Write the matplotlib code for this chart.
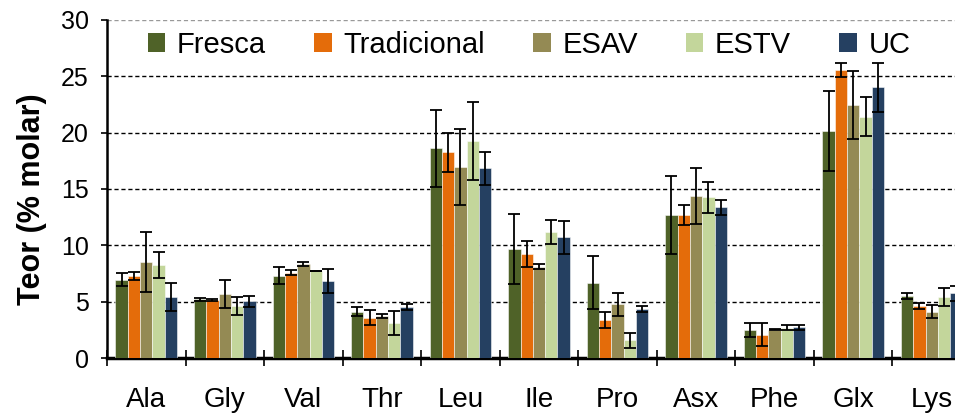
import matplotlib
matplotlib.use("Agg")
import matplotlib.pyplot as plt
import numpy as np
from matplotlib.patches import Patch

plt.rcParams['font.family'] = ['Liberation Sans', 'DejaVu Sans']

categories = ["Ala", "Gly", "Val", "Thr", "Leu", "Ile", "Pro", "Asx", "Phe", "Glx", "Lys"]
series = ["Fresca", "Tradicional", "ESAV", "ESTV", "UC"]

fresca      = [6.95, 5.21, 7.30, 4.11, 18.60, 9.64, 6.69, 12.69, 2.49, 20.13, 5.50]
tradicional = [7.30, 5.15, 7.57, 3.58, 18.24, 9.23, 3.38, 12.69, 2.08, 25.54, 4.62]
esav        = [8.49, 5.68, 8.34, 3.73, 16.94, 8.10, 4.77, 14.37, 2.52, 22.44, 4.12]
estv        = [8.25, 4.62, 7.72, 3.11, 19.27, 11.18, 1.58, 14.25, 2.70, 21.40, 5.38]
uc          = [5.42, 5.03, 6.83, 4.50, 16.82, 10.71, 4.35, 13.37, 2.73, 24.00, 5.75]

fresca_err      = [0.60, 0.15, 0.75, 0.40, 3.40, 3.10, 2.33, 3.45, 0.60, 3.55, 0.24]
tradicional_err = [0.35, 0.07, 0.20, 0.65, 1.75, 1.15, 0.70, 0.85, 1.03, 0.60, 0.30]
esav_err        = [2.65, 1.20, 0.17, 0.20, 3.40, 0.20, 1.03, 2.50, 0.05, 3.00, 0.60]
estv_err        = [1.15, 0.83, 0.00, 1.10, 3.45, 1.10, 0.65, 1.35, 0.20, 1.75, 0.80]
uc_err          = [1.25, 0.46, 1.10, 0.27, 1.45, 1.45, 0.24, 0.65, 0.20, 2.20, 0.65]

values = [fresca, tradicional, esav, estv, uc]
errors = [fresca_err, tradicional_err, esav_err, estv_err, uc_err]
colors = ["#4F6228", "#E46C0A", "#948A54", "#C3D69B", "#254061"]

fig = plt.figure(figsize=(9.55, 4.13), dpi=100)
ax = fig.add_axes([107/955, 54.9/413, 864/955, 338.4/413])

x = np.arange(len(categories))
w = 0.157
for i, (vals, errs, c) in enumerate(zip(values, errors, colors)):
    pos = x + (i - 2) * w
    ax.bar(pos, vals, width=w, color=c, edgecolor=(1, 1, 1, 0.6), linewidth=0.6, zorder=3)
    ax.errorbar(pos, vals, yerr=errs, fmt='none', ecolor='black', elinewidth=1.3,
                capsize=4, capthick=1.3, zorder=4)

ax.set_xlim(-0.5, len(categories) - 0.5)
ax.set_ylim(0, 30)
ax.set_yticks(range(0, 31, 5))
ax.yaxis.grid(True, linestyle=(0, (3, 2)), color='black', linewidth=1.0, zorder=1)
ax.get_ygridlines()[-1].set_color('#999999')
ax.set_axisbelow(True)

ax.set_xticks(x)
ax.set_xticklabels(categories, fontsize=20)
ax.set_xticks(np.arange(-0.5, len(categories)), minor=True)
ax.tick_params(axis='x', which='major', length=0, pad=21)
ax.tick_params(axis='x', which='minor', direction='inout', length=12, width=1.2)
ax.tick_params(axis='y', which='major', direction='out', length=4, width=1.2, labelsize=18, pad=9)

for s in ['top', 'right']:
    ax.spines[s].set_visible(False)
ax.spines['left'].set_linewidth(1.8)
ax.spines['bottom'].set_linewidth(2.5)

fig.text(32/955, 1 - 199/413, "Teor (% molar)", rotation=90, fontsize=22, fontweight='bold',
         ha='center', va='center')

handles = [Patch(facecolor=c, edgecolor='none') for c in colors]
fig.legend(handles, series, loc='center', bbox_to_anchor=(529/955, 1 - 45/413), ncol=5,
           frameon=False, fontsize=21, handlelength=0.6, handleheight=0.6,
           handletextpad=0.4, columnspacing=1.65)

fig.savefig("out.png", dpi=100)
